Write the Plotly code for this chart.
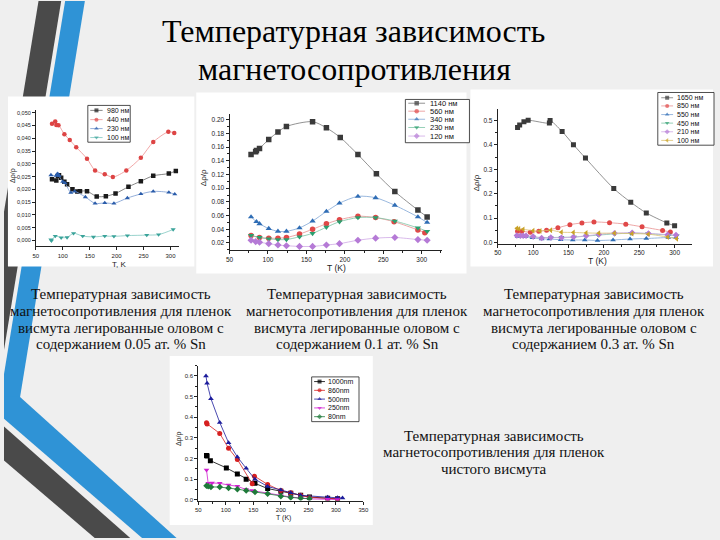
import plotly.graph_objects as go

W, H = 720, 540

# ---------------- data ----------------
# Chart 1: 0.05 at.% Sn
c1_series = ["980 нм", "440 нм", "230 нм", "100 нм"]
c1_T_980 = [80, 88, 91, 93, 97, 103, 108, 118, 127, 132, 145, 163, 180, 198, 222, 245, 268, 297, 310]
c1_y_980 = [0.0240, 0.0235, 0.0252, 0.0255, 0.0245, 0.0230, 0.0220, 0.0200, 0.0192, 0.0193, 0.0193, 0.0172, 0.0173, 0.0184, 0.0210, 0.0232, 0.0253, 0.0262, 0.0272]
c1_T_440 = [80, 86, 88, 92, 103, 113, 125, 145, 160, 178, 193, 218, 245, 268, 296, 307]
c1_y_440 = [0.0457, 0.0466, 0.0452, 0.0451, 0.0416, 0.0393, 0.0365, 0.0320, 0.0274, 0.0259, 0.0248, 0.0274, 0.0324, 0.0385, 0.0425, 0.0421]
c1_T_230 = [78, 88, 90, 92, 93, 100, 104, 115, 122, 142, 160, 178, 195, 220, 245, 268, 297, 308]
c1_y_230 = [0.0256, 0.0254, 0.0261, 0.0258, 0.0253, 0.0230, 0.0225, 0.0187, 0.0192, 0.0170, 0.0145, 0.0147, 0.0145, 0.0166, 0.0182, 0.0192, 0.0188, 0.0181]
c1_T_100 = [78, 79, 86, 97, 108, 120, 137, 157, 178, 195, 220, 256, 278, 305]
c1_y_100 = [0.0003, -0.0001, 0.0017, 0.0011, 0.0012, 0.0028, 0.0017, 0.0014, 0.0017, 0.0016, 0.0019, 0.0021, 0.0023, 0.0043]
c1_yticks = [0.000, 0.005, 0.010, 0.015, 0.020, 0.025, 0.030, 0.035, 0.040, 0.045, 0.050]
c1_yticktext = ["0,000", "0,005", "0,010", "0,015", "0,020", "0,025", "0,030", "0,035", "0,040", "0,045", "0,050"]

# Chart 2: 0.1 at.% Sn
c2_series = ["1140 нм", "560 нм", "340 нм", "230 нм", "120 нм"]
c2_T_1140 = [78, 84, 85, 89, 101, 113, 124, 158, 176, 194, 217, 241, 265, 295, 307]
c2_y_1140 = [0.149, 0.153, 0.155, 0.158, 0.171, 0.182, 0.190, 0.197, 0.188, 0.174, 0.149, 0.121, 0.095, 0.068, 0.058]
c2_T_560 = [78, 89, 101, 113, 124, 141, 158, 176, 193, 217, 240, 264, 295, 304]
c2_y_560 = [0.031, 0.028, 0.027, 0.027, 0.028, 0.033, 0.040, 0.048, 0.054, 0.059, 0.057, 0.051, 0.039, 0.035]
c2_T_340 = [78, 85, 89, 101, 113, 124, 141, 158, 176, 193, 217, 240, 265, 295, 307]
c2_y_340 = [0.058, 0.051, 0.048, 0.041, 0.037, 0.037, 0.042, 0.052, 0.066, 0.078, 0.088, 0.086, 0.075, 0.058, 0.050]
c2_T_230 = [78, 89, 101, 113, 124, 141, 158, 176, 193, 217, 240, 265, 295, 307]
c2_y_230 = [0.031, 0.028, 0.026, 0.025, 0.025, 0.029, 0.034, 0.043, 0.051, 0.057, 0.057, 0.052, 0.042, 0.037]
c2_T_120 = [78, 84, 89, 101, 113, 124, 141, 158, 176, 193, 217, 240, 265, 295, 307]
c2_y_120 = [0.024, 0.022, 0.021, 0.019, 0.017, 0.016, 0.015, 0.015, 0.017, 0.019, 0.024, 0.027, 0.028, 0.025, 0.024]

# Chart 3: 0.3 at.% Sn
c3_series = ["1650 нм", "850 нм", "550 нм", "450 нм", "210 нм", "100 нм"]
c3_T_1650 = [78, 81, 87, 93, 123, 124, 141, 157, 174, 214, 238, 260, 289, 300]
c3_y_1650 = [0.472, 0.482, 0.495, 0.501, 0.490, 0.500, 0.455, 0.401, 0.346, 0.221, 0.165, 0.121, 0.080, 0.068]
c3_T_850 = [78, 84, 96, 108, 119, 135, 152, 169, 186, 208, 231, 254, 283, 294]
c3_y_850 = [0.046, 0.046, 0.042, 0.046, 0.050, 0.060, 0.073, 0.080, 0.084, 0.081, 0.075, 0.064, 0.049, 0.043]
c3_T_550 = [78, 89, 99, 112, 123, 139, 156, 173, 191, 213, 237, 260, 291, 302]
c3_y_550 = [0.024, 0.023, 0.019, 0.014, 0.014, 0.011, 0.010, 0.010, 0.008, 0.010, 0.014, 0.016, 0.020, 0.019]
c3_T_450 = [78, 85, 100, 125, 140, 158, 175, 192, 215, 238, 262, 292, 303]
c3_y_450 = [0.028, 0.027, 0.022, 0.020, 0.021, 0.022, 0.026, 0.030, 0.035, 0.038, 0.036, 0.030, 0.027]
c3_T_210 = [77, 82, 86, 90, 100, 112, 125, 140, 157, 175, 193, 215, 240, 263, 290, 302]
c3_y_210 = [0.028, 0.027, 0.027, 0.027, 0.024, 0.018, 0.020, 0.019, 0.022, 0.027, 0.033, 0.038, 0.040, 0.037, 0.032, 0.030]
c3_T_100 = [77, 80, 86, 100, 110, 125, 140, 157, 175, 193, 215, 240, 263, 290, 303]
c3_y_100 = [0.058, 0.056, 0.054, 0.048, 0.047, 0.050, 0.042, 0.041, 0.039, 0.038, 0.038, 0.036, 0.034, 0.022, 0.015]

# Chart 4: pure bismuth
c4_series = ["1000nm", "860nm", "500nm", "250nm", "80nm"]
c4_T_1000 = [65, 66, 72, 101, 121, 137, 153, 176, 200, 218, 236, 252, 285, 303]
c4_y_1000 = [0.215, 0.212, 0.190, 0.155, 0.125, 0.100, 0.080, 0.055, 0.042, 0.032, 0.022, 0.014, 0.008, 0.005]
c4_T_860 = [65, 66, 89, 105, 121, 148, 152, 176, 200, 218, 236, 252, 285, 303]
c4_y_860 = [0.373, 0.368, 0.322, 0.250, 0.196, 0.078, 0.115, 0.075, 0.045, 0.035, 0.022, 0.012, 0.008, 0.005]
c4_T_500 = [64, 66, 73, 89, 105, 121, 137, 153, 176, 200, 218, 236, 285, 303, 312]
c4_y_500 = [0.600, 0.565, 0.490, 0.375, 0.277, 0.208, 0.153, 0.100, 0.065, 0.048, 0.035, 0.022, 0.013, 0.010, 0.009]
c4_T_250 = [65, 68, 75, 89, 105, 121, 137, 148, 176, 200, 218, 236, 252, 285, 303]
c4_y_250 = [0.145, 0.080, 0.082, 0.080, 0.072, 0.066, 0.050, 0.045, 0.030, 0.020, 0.014, 0.009, 0.005, 0.003, 0.002]
c4_T_80 = [65, 68, 73, 89, 105, 121, 137, 153, 176, 200, 218, 236, 252]
c4_y_80 = [0.068, 0.066, 0.063, 0.062, 0.058, 0.052, 0.045, 0.038, 0.030, 0.018, 0.012, 0.008, 0.006]

title_lines = ["Температурная зависимость", "магнетосопротивления"]
captions = [
    ["Температурная зависимость", "магнетосопротивления для пленок", "висмута легированные оловом с", "содержанием 0.05 ат. % Sn"],
    ["Температурная зависимость", "магнетосопротивления для пленок", "висмута легированные оловом с", "содержанием 0.1 ат. % Sn"],
    ["Температурная зависимость", "магнетосопротивления для пленок", "висмута легированные оловом с", "содержанием 0.3 ат. % Sn"],
    ["Температурная зависимость", "магнетосопротивления для пленок", "чистого висмута"],
]

# ---------------- helpers ----------------
def px(x):
    return x / W

def py(y):
    return 1 - y / H

SANS = "Liberation Sans"
SERIF = "Times New Roman"

fig = go.Figure()

def add_series(T, Y, name, color, lcolor, symbol, xa, ya, shape="spline", size=4.5):
    fig.add_trace(go.Scatter(
        x=T, y=Y, name=name, mode="lines+markers",
        line=dict(color=lcolor, width=0.8, shape=shape, smoothing=0.8 if shape == "spline" else None),
        marker=dict(color=color, symbol=symbol, size=size, line=dict(width=0)),
        xaxis=xa, yaxis=ya, showlegend=False, hoverinfo="skip"))

st1 = [("#1a1a1a", "#666666", "square"), ("#dd4444", "#ee9090", "circle"),
       ("#2a5caa", "#7a9ad0", "triangle-up"), ("#3aa39a", "#80c8c0", "triangle-down")]
for (T, Y), name, (c, lc, s) in zip([(c1_T_980, c1_y_980), (c1_T_440, c1_y_440), (c1_T_230, c1_y_230), (c1_T_100, c1_y_100)], c1_series, st1):
    add_series(T, Y, name, c, lc, s, "x", "y", size=4.5)

st2 = [("#3a3a3a", "#777777", "square"), ("#e04848", "#e89090", "circle"),
       ("#2f6db5", "#80a6d6", "triangle-up"), ("#2b9e6e", "#7cc4a4", "triangle-down"),
       ("#b57ad6", "#cfa8e6", "diamond")]
for (T, Y), name, (c, lc, s) in zip([(c2_T_1140, c2_y_1140), (c2_T_560, c2_y_560), (c2_T_340, c2_y_340), (c2_T_230, c2_y_230), (c2_T_120, c2_y_120)], c2_series, st2):
    add_series(T, Y, name, c, lc, s, "x2", "y2", size=5.5)

st3 = [("#3a3a3a", "#777777", "square"), ("#e04848", "#e89090", "circle"),
       ("#2f6db5", "#80a6d6", "triangle-up"), ("#2b9e6e", "#7cc4a4", "triangle-down"),
       ("#b57ad6", "#cfa8e6", "diamond"), ("#c9a227", "#dcc270", "triangle-left")]
for (T, Y), name, (c, lc, s) in zip([(c3_T_1650, c3_y_1650), (c3_T_850, c3_y_850), (c3_T_550, c3_y_550), (c3_T_450, c3_y_450), (c3_T_210, c3_y_210), (c3_T_100, c3_y_100)], c3_series, st3):
    add_series(T, Y, name, c, lc, s, "x3", "y3", size=5)

st4 = [("#000000", "#000000", "square"), ("#d62020", "#d62020", "circle"),
       ("#1c1c9c", "#1c1c9c", "triangle-up"), ("#d020d0", "#d020d0", "triangle-down"),
       ("#1f7a3a", "#1f7a3a", "diamond")]
for (T, Y), name, (c, lc, s) in zip([(c4_T_1000, c4_y_1000), (c4_T_860, c4_y_860), (c4_T_500, c4_y_500), (c4_T_250, c4_y_250), (c4_T_80, c4_y_80)], c4_series, st4):
    add_series(T, Y, name, c, lc, s, "x4", "y4", shape="linear", size=5)

shapes = []
annotations = []

def rect(x0, y0, x1, y1, fill, line_color=None, lw=0):
    shapes.append(dict(type="rect", xref="paper", yref="paper", layer="below",
                       x0=px(x0), x1=px(x1), y0=py(y1), y1=py(y0),
                       fillcolor=fill, line=dict(color=line_color or fill, width=lw)))

def legend(box, rows, lx0, lx1, tx, names, styles, fsize, msize):
    rect(*box, "white", "#222222", 0.8)
    for r, n, (c, lc, s) in zip(rows, names, styles):
        fig.add_trace(go.Scatter(
            x=[lx0, (lx0 + lx1) / 2, lx1], y=[r, r, r], mode="lines+markers",
            line=dict(color=lc, width=0.8), marker=dict(color=c, symbol=s, size=[0, msize, 0], line=dict(width=0)),
            xaxis="x5", yaxis="y5", showlegend=False, hoverinfo="skip"))
        annotations.append(dict(xref="paper", yref="paper", x=px(tx), y=py(r), text=n,
                                showarrow=False, xanchor="left", yanchor="middle",
                                font=dict(family=SANS, size=fsize, color="#111")))

def poly(points, color):
    d = "M " + " L ".join(f"{px(x)},{py(y)}" for x, y in points) + " Z"
    shapes.append(dict(type="path", xref="paper", yref="paper", layer="below", path=d,
                       fillcolor=color, line=dict(width=0)))

# decorative slide stripes
poly([(35, 0), (58, 0), (0, 351), (0, 212)], "#4a4a4a")
poly([(62, 0), (82, 0), (16, 400), (0, 400), (0, 375)], "#2f93d6")
poly([(0, 398), (16, 398), (175, 540), (140, 540), (0, 420)], "#2f93d6")
poly([(0, 428), (128, 540), (92, 540), (0, 462)], "#4a4a4a")

# white chart-image backgrounds
rect(4, 96, 193, 267, "white")
rect(195, 92, 469, 274, "white")
rect(473, 89, 719, 267, "white")
rect(168, 357, 374, 527, "white")

legend((85, 105, 128, 142), [110, 119.3, 128.3, 137.3], 87.5, 100, 102.5, c1_series, st1, 7, 4)
legend((407, 99, 472, 142.5), [102.8, 110.8, 118.9, 127.2, 135.8], 410, 427, 430, c2_series, st2, 7.5, 4.5)
legend((663, 92, 720, 145), [97.3, 105.5, 114.2, 122.8, 131.5, 140.2], 666.5, 678.5, 680.5, c3_series, st3, 7, 4)
legend((312, 378, 360, 423), [382.7, 391.5, 400.3, 409.2, 418], 314.5, 325.5, 327, c4_series, st4, 7, 4)

def axis(domain, rng, anchor, **kw):
    d = dict(domain=domain, range=rng, anchor=anchor, showline=True, linecolor="#222", linewidth=1,
             ticks="outside", ticklen=3, tickwidth=1, tickcolor="#222", showgrid=False, zeroline=False,
             tickfont=dict(family=SANS, size=6.5, color="#222"))
    d.update(kw)
    return d

layout_axes = dict(
    xaxis=axis([px(32.3), px(177)], [50, 315], "y", tickvals=[50, 100, 150, 200, 250, 300],
               tickfont=dict(family=SANS, size=6, color="#222")),
    yaxis=axis([py(246.7), py(110)], [-0.0023, 0.0509], "x", tickvals=c1_yticks, ticktext=c1_yticktext,
               tickfont=dict(family=SANS, size=5.5, color="#222")),
    xaxis2=axis([px(228.7), px(444.3)], [50, 326.5], "y2", tickvals=[50, 100, 150, 200, 250, 300],
                minor=dict(ticks="outside", ticklen=2, dtick=25, tick0=50, tickcolor="#222")),
    yaxis2=axis([py(250.7), py(113.3)], [0.0093, 0.2087], "x2", tickvals=[0.02, 0.04, 0.06, 0.08, 0.10, 0.12, 0.14, 0.16, 0.18, 0.20],
                tickformat=".2f", minor=dict(ticks="outside", ticklen=2, dtick=0.01, tick0=0, tickcolor="#222")),
    xaxis3=axis([px(500.7), px(697.7)], [50, 324.6], "y3", tickvals=[50, 100, 150, 200, 250, 300],
                minor=dict(ticks="outside", ticklen=2, dtick=25, tick0=50, tickcolor="#222")),
    yaxis3=axis([py(244), py(108.7)], [-0.005, 0.547], "x3", tickvals=[0.0, 0.1, 0.2, 0.3, 0.4, 0.5],
                tickformat=".1f", minor=dict(ticks="outside", ticklen=2, dtick=0.05, tick0=0, tickcolor="#222")),
    xaxis4=axis([px(197), px(364.5)], [50, 350], "y4", tickvals=[50, 100, 150, 200, 250, 300, 350],
                tickfont=dict(family=SANS, size=6, color="#222"),
                minor=dict(ticks="outside", ticklen=2, dtick=25, tick0=50, tickcolor="#222")),
    yaxis4=axis([py(502.3), py(366.7)], [-0.003, 0.65], "x4", tickvals=[0.0, 0.1, 0.2, 0.3, 0.4, 0.5, 0.6],
                tickformat=".1f", tickfont=dict(family=SANS, size=6, color="#222"),
                minor=dict(ticks="outside", ticklen=2, dtick=0.05, tick0=0, tickcolor="#222")),
    xaxis5=dict(domain=[0, 1], range=[0, W], anchor="y5", visible=False, fixedrange=True),
    yaxis5=dict(domain=[0, 1], range=[H, 0], anchor="x5", visible=False, fixedrange=True),
)

def atext(x, y, t, size, angle=0, family=SANS):
    annotations.append(dict(xref="paper", yref="paper", x=px(x), y=py(y), text=t, showarrow=False,
                            textangle=angle, xanchor="center", yanchor="middle",
                            font=dict(family=family, size=size, color="#222")))

atext(9, 175, "Δρ/ρ", 7, -90)
atext(117, 265, "T, K", 8)
atext(202, 178, "Δρ/ρ", 8, -90)
atext(337, 268, "T (K)", 8.5)
atext(480, 183, "Δρ/ρ", 8, -90)
atext(602, 261.5, "T (K)", 8.5)
atext(177, 440, "Δρ/ρ", 7, -90)
atext(283, 520, "T (K)", 7)

# title
for (tx, ty), t in zip([(354, 30), (355, 68)], title_lines):
    annotations.append(dict(xref="paper", yref="paper", x=px(tx), y=py(ty), text=t, showarrow=False,
                            xanchor="center", yanchor="middle", font=dict(family=SERIF, size=32, color="#000")))

# captions
for (cx, cy0), lines in zip([(119, 295), (358, 295), (598, 295), (497, 437)], captions):
    for i, t in enumerate(lines):
        annotations.append(dict(xref="paper", yref="paper", x=px(cx), y=py(cy0 + i * 16.8), text=t, showarrow=False,
                                xanchor="center", yanchor="middle",
                                font=dict(family=SERIF, size=15, color="#111")))

fig.update_layout(
    width=W, height=H, margin=dict(l=0, r=0, t=0, b=0),
    paper_bgcolor="#efefef", plot_bgcolor="rgba(0,0,0,0)",
    showlegend=False, shapes=shapes, annotations=annotations, **layout_axes)

fig.write_html("out.html")
